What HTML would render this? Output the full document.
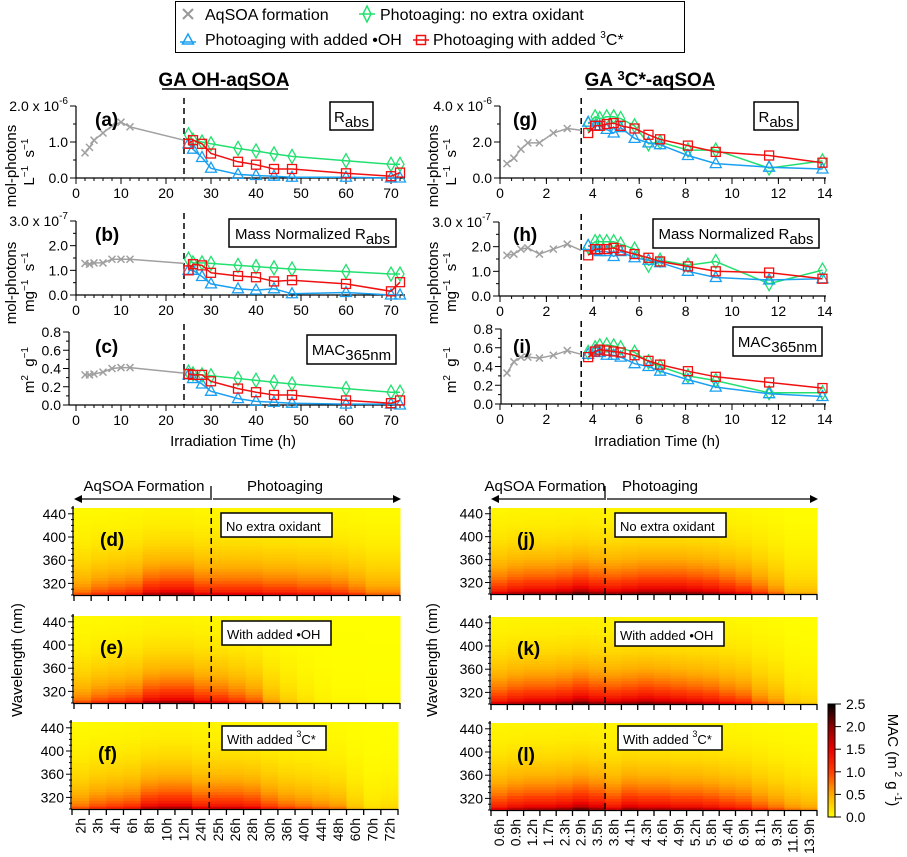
<!DOCTYPE html>
<html><head><meta charset="utf-8"><style>
html,body{margin:0;padding:0;background:#fff;}
svg{display:block;font-family:"Liberation Sans",Arial,sans-serif;}
</style></head><body>
<svg id="fig" width="907" height="857" viewBox="0 0 907 857" xmlns="http://www.w3.org/2000/svg">
<g>
<rect x="175.5" y="1.5" width="509" height="51" fill="#fff" stroke="#000" stroke-width="1"/>
<g><line x1="183" y1="9" x2="193" y2="19" stroke="#999" stroke-width="2"/><line x1="193" y1="9" x2="183" y2="19" stroke="#999" stroke-width="2"/><text x="205" y="20" font-size="16">AqSOA formation</text></g>
<g><line x1="359" y1="14" x2="375" y2="14" stroke="#22e070" stroke-width="1.5"/><polygon points="367,6 371,14 367,22 363,14" fill="none" stroke="#22e070" stroke-width="1.5"/><text x="380" y="20" font-size="16">Photoaging: no extra oxidant</text></g>
<g><line x1="180" y1="42" x2="196" y2="42" stroke="#1aa0f0" stroke-width="1.5"/><polygon points="188,34 193.5,44 182.5,44" fill="none" stroke="#1aa0f0" stroke-width="1.5"/><text x="205" y="45" font-size="16">Photoaging with added •OH</text></g>
<g><line x1="413" y1="40" x2="429" y2="40" stroke="#f01010" stroke-width="1.5"/><rect x="416.5" y="35.5" width="9" height="9" fill="none" stroke="#f01010" stroke-width="1.5"/><text x="433" y="45" font-size="16">Photoaging with added <tspan font-size="10" dy="-7">3</tspan><tspan dy="7">C*</tspan></text></g>
</g>
<text x="224" y="86" font-size="19" font-weight="bold" text-anchor="middle">GA OH-aqSOA</text>
<line x1="162" y1="89" x2="288" y2="89" stroke="#000" stroke-width="1.5"/>
<text x="650" y="86" font-size="19" font-weight="bold" text-anchor="middle">GA <tspan font-size="13" dy="-6">3</tspan><tspan dy="6">C*-aqSOA</tspan></text>
<line x1="587" y1="89" x2="714" y2="89" stroke="#000" stroke-width="1.5"/>
<g id="charts"></g>
<g id="heat"></g>
</svg>
<script>
// ---------- line chart data ----------
const ohGrayT = [2,3,4,6,8,10,12,24];
const ohPhotoT = [25,26,28,30,36,40,44,48,60,70,72];
const aGray = [0.7,0.85,1.05,1.25,1.45,1.55,1.42,1.05];
const aGreen = [1.2,1.05,1.0,0.95,0.82,0.75,0.67,0.6,0.48,0.38,0.38];
const aBlue = [0.95,0.8,0.57,0.27,0.1,0.07,0.05,0.02,0.02,0.0,0.0];
const aRed = [0.95,1.05,0.95,0.68,0.45,0.37,0.25,0.25,0.13,0.05,0.15];
const bGray = [1.28,1.25,1.3,1.3,1.45,1.45,1.45,1.28];
const bGreen = [1.45,1.3,1.3,1.28,1.2,1.15,1.1,1.05,0.95,0.85,0.85];
const bBlue = [1.0,1.0,0.75,0.45,0.25,0.2,0.25,0.05,0.1,0.0,0.0];
const bRed = [1.0,1.25,1.2,0.9,0.77,0.72,0.55,0.6,0.45,0.15,0.52];
const cGray = [0.33,0.33,0.34,0.36,0.4,0.41,0.41,0.35];
const cGreen = [0.36,0.34,0.33,0.32,0.29,0.27,0.25,0.23,0.18,0.14,0.14];
const cBlue = [0.33,0.29,0.23,0.15,0.07,0.04,0.03,0.02,0.01,0.01,0.0];
const cRed = [0.34,0.33,0.33,0.26,0.18,0.14,0.11,0.11,0.05,0.02,0.05];
const ccGrayT = [0.3,0.6,0.9,1.2,1.7,2.3,2.9,3.5];
const ccPhotoT = [3.8,4.1,4.3,4.6,4.9,5.2,5.8,6.4,6.9,8.1,9.3,11.6,13.9];
const gGray = [0.8,1.1,1.6,1.95,1.95,2.5,2.75,2.65];
const gGreen = [3.0,3.4,3.3,3.4,3.4,3.3,2.9,1.9,2.0,1.55,1.55,0.55,0.95];
const gBlue = [3.1,2.9,2.9,2.7,2.5,2.8,2.2,1.95,1.85,1.25,0.8,0.6,0.5];
const gRed = [2.5,2.9,2.9,3.0,3.05,2.9,2.75,2.4,2.15,1.8,1.45,1.25,0.85];
const hGray = [1.65,1.7,1.9,1.95,1.7,1.9,2.1,1.85];
const hGreen = [2.0,2.2,2.2,2.2,2.2,2.1,1.9,1.25,1.45,1.25,1.4,0.5,1.05];
const hBlue = [2.05,1.85,1.8,1.8,1.6,1.8,1.55,1.45,1.35,1.0,0.75,0.65,0.7];
const hRed = [1.65,1.9,1.9,1.9,1.95,1.85,1.7,1.55,1.4,1.2,1.0,0.95,0.7];
const iGray = [0.33,0.45,0.5,0.5,0.49,0.52,0.57,0.53];
const iGreen = [0.55,0.6,0.62,0.63,0.62,0.6,0.55,0.45,0.4,0.3,0.25,0.12,0.12];
const iBlue = [0.53,0.57,0.55,0.52,0.52,0.5,0.43,0.4,0.35,0.26,0.18,0.11,0.08];
const iRed = [0.5,0.56,0.58,0.57,0.56,0.55,0.52,0.46,0.42,0.35,0.29,0.23,0.17];
const leftXTicks = [0,10,20,30,40,50,60,70];
const rightXTicks = [0,2,4,6,8,10,12,14];
const yTicksA = [0,1,2];
const yTicksB = [0,1,2,3];
const yTicksC = [0,0.2,0.4,0.6,0.8];
// ---------- heatmap data ----------
const ohCols = ["2h","3h","4h","6h","8h","10h","12h","24h","25h","26h","28h","30h","36h","40h","44h","48h","60h","70h","72h"];
const ccCols = ["0.6h","0.9h","1.2h","1.7h","2.3h","2.9h","3.5h","3.8h","4.1h","4.3h","4.6h","4.9h","5.2h","5.8h","6.4h","6.9h","8.1h","9.3h","11.6h","13.9h"];
const wavelengths = [300,305,310,315,320,325,330,335,340,345,350,355,360,365,370,375,380,385,390,395,400,405,410,415,420,425,430,435,440,445];
const spectralShape = [1.00,0.80,0.70,0.62,0.56,0.50,0.45,0.41,0.37,0.33,0.30,0.27,0.24,0.22,0.20,0.18,0.16,0.14,0.125,0.11,0.10,0.09,0.08,0.07,0.06,0.055,0.05,0.045,0.04,0.035];
const dMac = [0.9,1.1,1.2,1.3,1.7,1.8,1.8,1.5,1.5,1.5,1.5,1.4,1.4,1.3,1.3,1.2,1.0,0.8,0.8];
const eMac = [0.9,1.1,1.2,1.3,1.7,1.8,1.8,1.5,1.4,1.2,1.0,0.6,0.35,0.2,0.1,0.05,0.05,0.03,0.03];
const fMac = [0.9,1.1,1.2,1.3,1.7,1.8,1.8,1.5,1.6,1.6,1.5,1.2,1.0,0.9,0.8,0.7,0.4,0.2,0.25];
const jMac = [1.5,1.7,1.8,1.8,1.9,2.1,1.9,1.8,1.9,2.0,2.0,2.0,1.9,1.8,1.6,1.4,1.1,0.8,0.45,0.45];
const kMac = [1.5,1.7,1.8,1.8,1.9,2.1,1.9,1.8,1.9,2.0,1.9,1.8,1.7,1.6,1.4,1.25,0.9,0.7,0.35,0.3];
const lMac = [1.5,1.7,1.8,1.8,1.9,2.1,1.9,1.6,1.9,1.8,1.8,1.7,1.7,1.6,1.45,1.35,1.1,0.9,0.7,0.6];
const cbTicks = [0,0.5,1.0,1.5,2.0,2.5];

const NS="http://www.w3.org/2000/svg";
function mk(tag, attrs, parent, txt){const e=document.createElementNS(NS,tag);for(const k in attrs)e.setAttribute(k,attrs[k]);if(txt!==undefined)e.textContent=txt;parent.appendChild(e);return e;}
const charts=document.getElementById('charts');
const GREEN="#22e070",BLUE="#1aa0f0",RED="#f01010",GRAY="#a0a0a0";

function drawPanel(p){
  const g=mk('g',{},charts);
  
  
  const sx=v=>p.x0+(v-p.xmin)*p.xs;
  const sy=v=>p.y0-(v/p.ymax)*(p.y0-p.ytop);
  const ax=mk('g',{},g);
  
  
  mk('line',{x1:p.ax,y1:p.ytop,x2:p.ax,y2:p.y0,stroke:'#000','stroke-width':1.2},ax);
  mk('line',{x1:p.ax,y1:p.y0,x2:p.xend,y2:p.y0,stroke:'#000','stroke-width':1.2},ax);
  for(let v=p.xmin;v<=p.xmaxTick+1e-9;v+=p.minor){const x=sx(v);mk('line',{x1:x,y1:p.y0,x2:x,y2:p.y0+3,stroke:'#000','stroke-width':1},ax);}
  p.xt.forEach(v=>{const x=sx(v);mk('line',{x1:x,y1:p.y0,x2:x,y2:p.y0+6,stroke:'#000','stroke-width':1},ax);
    if(p.xlab){const t=mk('text',{x:x,y:p.y0+20,'font-size':14,'text-anchor':'middle'},ax,String(v));}});
  p.yt.forEach((v,i)=>{const y=sy(v);mk('line',{x1:p.ax-6,y1:y,x2:p.ax,y2:y,stroke:'#000','stroke-width':1},ax);
    if(i<p.yt.length-1){const ym=sy(v+(p.yt[1]-p.yt[0])/2);mk('line',{x1:p.ax-3,y1:ym,x2:p.ax,y2:ym,stroke:'#000','stroke-width':1},ax);}
    let s=p.fmt(v);
    const t=mk('text',{x:p.ax-8,y:y+5,'font-size':14,'text-anchor':'end'},ax,s);
    
    if(i===p.yt.length-1&&p.exp){t.textContent='';t.appendChild(document.createTextNode(s+' x 10'));mk('tspan',{'font-size':10,dy:-7},t,p.exp);}
  });
  const d=mk('line',{x1:sx(p.dash),y1:p.ytop-8,x2:sx(p.dash),y2:p.y0,stroke:'#000','stroke-width':1.5,'stroke-dasharray':'6,4'},g);
  
  const series=[[p.grayT,p.gray,GRAY,'x','series-aqsoa'],[p.photoT,p.green,GREEN,'d','series-no-oxidant'],[p.photoT,p.blue,BLUE,'t','series-oh'],[p.photoT,p.red,RED,'s','series-3c']];
  series.forEach(([xs,ys,c,m,name])=>{
    const sg=mk('g',{},g);
    
    
    const pts=xs.map((x,i)=>sx(x).toFixed(1)+','+sy(ys[i]).toFixed(1)).join(' ');
    mk('polyline',{points:pts,fill:'none',stroke:c,'stroke-width':1.5},sg);
    xs.forEach((x,i)=>{
      if(m==='x'&&i===xs.length-1)return;
      const X=sx(x),Y=sy(ys[i]);
      if(m==='x'){mk('path',{d:`M${X-3.5},${Y-3.5}L${X+3.5},${Y+3.5}M${X+3.5},${Y-3.5}L${X-3.5},${Y+3.5}`,stroke:c,'stroke-width':1.5},sg);}
      else if(m==='d'){mk('polygon',{points:`${X},${Y-7} ${X+4},${Y} ${X},${Y+7} ${X-4},${Y}`,fill:'none',stroke:c,'stroke-width':1.3},sg);}
      else if(m==='t'){mk('polygon',{points:`${X},${Y-6} ${X+5.5},${Y+4} ${X-5.5},${Y+4}`,fill:'none',stroke:c,'stroke-width':1.3},sg);}
      else {mk('rect',{x:X-4.5,y:Y-4.5,width:9,height:9,fill:'none',stroke:c,'stroke-width':1.3},sg);}
    });
  });
  const bx=mk('g',{},g);
  
  
  mk('rect',{x:p.box[0],y:p.box[1],width:p.box[2],height:p.box[3],fill:'#fff',stroke:'#000','stroke-width':1.5},bx);
  const bt=mk('text',{x:p.box[0]+p.box[2]/2,y:p.box[1]+20,'font-size':15,'text-anchor':'middle'},bx,p.boxMain);
  mk('tspan',{dy:5},bt,p.boxSub);
  const lt=mk('text',{x:p.letter[0],y:p.letter[1],'font-size':19,'font-weight':'bold'},g,p.letterTxt);
  
  const yl=mk('g',{},g);
  
  
  if(p.yl1){mk('text',{x:0,y:0,'font-size':15,'text-anchor':'middle',transform:`translate(${p.ylx1},${p.ylc}) rotate(-90)`},yl,p.yl1);}
  const t2=mk('text',{x:0,y:0,'font-size':15,'text-anchor':'middle',transform:`translate(${p.ylx2},${p.ylc2}) rotate(-90)`},yl);
  p.yl2.forEach(([s,sup])=>{ if(sup){mk('tspan',{'font-size':10,dy:-6},t2,sup);mk('tspan',{dy:6},t2,'\u00a0');} else mk('tspan',{},t2,s);});
}
const fmt1=v=>v.toFixed(1);
const L={x0:76,xmin:0,xs:4.5,xend:405,xmaxTick:72,minor:2,xt:leftXTicks,dash:24,grayT:ohGrayT,photoT:ohPhotoT,ylx1:16,ylx2:34};
const R={x0:500,xmin:0,xs:23.2,xend:826,xmaxTick:14,minor:0.5,xt:rightXTicks,dash:3.5,grayT:ccGrayT,photoT:ccPhotoT,ylx1:438,ylx2:456};
const Lunit=[['L'],[null,'−1'],[' s'],[null,'−1']];
const Munit=[['mg'],[null,'−1'],[' s'],[null,'−1']];
const Gunit=[['m'],[null,'2'],[' g'],[null,'−1']];
const panels=[
 Object.assign({},L,{id:'a',ax:76,y0:178,ytop:106,ymax:2,yt:yTicksA,fmt:fmt1,exp:'-6',gray:aGray,green:aGreen,blue:aBlue,red:aRed,xlab:true,box:[330,102,43,28],boxMain:'R',boxSub:'abs',letter:[95,126],letterTxt:'(a)',yl1:'mol-photons',yl2:Lunit,ylc:166,ylc2:160}),
 Object.assign({},L,{id:'b',ax:76,y0:295,ytop:221,ymax:3,yt:yTicksB,fmt:fmt1,exp:'-7',gray:bGray,green:bGreen,blue:bBlue,red:bRed,xlab:true,box:[229,219,167,28],boxMain:'Mass Normalized R',boxSub:'abs',letter:[95,241],letterTxt:'(b)',yl1:'mol-photons',yl2:Munit,ylc:283,ylc2:280}),
 Object.assign({},L,{id:'c',ax:69,y0:405,ytop:332,ymax:0.8,yt:yTicksC,fmt:fmt1,exp:null,gray:cGray,green:cGreen,blue:cBlue,red:cRed,xlab:true,box:[307,335,89,29],boxMain:'MAC',boxSub:'365nm',letter:[95,353],letterTxt:'(c)',yl1:null,yl2:Gunit,ylc:368,ylc2:368}),
 Object.assign({},R,{id:'g',ax:500,y0:178,ytop:106,ymax:4,yt:[0,2,4],fmt:fmt1,exp:'-6',gray:gGray,green:gGreen,blue:gBlue,red:gRed,xlab:true,box:[754,102,44,28],boxMain:'R',boxSub:'abs',letter:[513,126],letterTxt:'(g)',yl1:'mol-photons',yl2:Lunit,ylc:166,ylc2:160}),
 Object.assign({},R,{id:'h',ax:499,y0:296,ytop:222,ymax:3,yt:yTicksB,fmt:fmt1,exp:'-7',gray:hGray,green:hGreen,blue:hBlue,red:hRed,xlab:true,box:[653,219,166,29],boxMain:'Mass Normalized R',boxSub:'abs',letter:[513,241],letterTxt:'(h)',yl1:'mol-photons',yl2:Munit,ylc:283,ylc2:280}),
 Object.assign({},R,{id:'i',ax:501,y0:404,ytop:329,ymax:0.8,yt:yTicksC,fmt:fmt1,exp:null,gray:iGray,green:iGreen,blue:iBlue,red:iRed,xlab:true,box:[733,327,89,29],boxMain:'MAC',boxSub:'365nm',letter:[513,353],letterTxt:'(i)',yl1:null,yl2:Gunit,ylc:368,ylc2:368})
];
panels.forEach(drawPanel);
[[233],[657]].forEach(([x])=>{const t=mk('text',{x:x,y:446,'font-size':15,'text-anchor':'middle'},charts,'Irradiation Time (h)');});

// ---------- heatmaps ----------
const heat=document.getElementById('heat');
function cmap(v){
  const t=Math.max(0,Math.min(1,v/2.5));
  const st=[[0,255,255,0],[0.2,255,170,0],[0.4,255,60,0],[0.6,235,0,0],[0.8,140,0,0],[1,0,0,0]];
  for(let i=1;i<st.length;i++){if(t<=st[i][0]){const a=st[i-1],b=st[i],f=(t-a[0])/(b[0]-a[0]);
    return `rgb(${Math.round(a[1]+(b[1]-a[1])*f)},${Math.round(a[2]+(b[2]-a[2])*f)},${Math.round(a[3]+(b[3]-a[3])*f)})`;}}
  return 'rgb(0,0,0)';
}
function drawHeat(h){
  const g=mk('g',{},heat);
  
  
  const n=h.cols.length,cw=(h.x1-h.x0)/n;
  const wy=w=>h.yb-(w-300)/150*(h.yb-h.yt);
  h.mac.forEach((amp,ci)=>{
    wavelengths.forEach((w,ri)=>{
      const y1=wy(w+5),y2=wy(w);
      mk('rect',{x:(h.x0+ci*cw).toFixed(2),y:y1.toFixed(2),width:(cw+0.5).toFixed(2),height:(y2-y1+0.5).toFixed(2),fill:cmap(amp*spectralShape[ri])},g);
    });
  });
  mk('line',{x1:h.x0-1,y1:h.yt-2,x2:h.x0-1,y2:h.yb,stroke:'#000','stroke-width':1.3},g);
  mk('line',{x1:h.x0-1,y1:h.yb+0.5,x2:h.x1,y2:h.yb+0.5,stroke:'#000','stroke-width':1.3},g);
  for(let w=300;w<=450;w+=10){const y=wy(w);const maj=(w-320)%40===0;mk('line',{x1:h.x0-(maj?6:3),y1:y,x2:h.x0,y2:y,stroke:'#000','stroke-width':1},g);
    if(maj&&w<=440){const t=mk('text',{x:h.x0-8,y:y+5,'font-size':14,'text-anchor':'end'},g,String(w));}}
  for(let i=0;i<=n;i++){const x=h.x0+i*cw;mk('line',{x1:x,y1:h.yb,x2:x,y2:h.yb+6,stroke:'#000','stroke-width':1.3},g);}
  if(h.labels){h.cols.forEach((c,i)=>{const x=h.x0+(i+0.5)*cw+5;const t=mk('text',{x:0,y:0,'font-size':14,'text-anchor':'end',transform:`translate(${x},${h.yb+9}) rotate(-90)`},g,c);});}
  const dx=h.x0+h.split*cw;
  mk('line',{x1:dx,y1:h.yt,x2:dx,y2:h.yb,stroke:'#000','stroke-width':1.5,'stroke-dasharray':'6,4'},g);
  const lt=mk('text',{x:h.x0+26,y:h.yt+38,'font-size':19,'font-weight':'bold'},g,h.letter);
  
  const bx=mk('g',{},g);
  
  
  mk('rect',{x:h.box[0],y:h.box[1],width:h.box[2],height:24,fill:'#fff',stroke:'#000','stroke-width':1.5},bx);
  const t=mk('text',{x:h.box[0]+5,y:h.box[1]+18,'font-size':13},bx,h.txt);
  if(h.sup){mk('tspan',{'font-size':9,dy:-7},t,'3');mk('tspan',{dy:7},t,'C*');}
}
const hl=[
 {id:'d',x0:74,x1:400,yt:508,yb:595,cols:ohCols,mac:dMac,split:8,letter:'(d)',box:[221,513,111,24],txt:'No extra oxidant',labels:false},
 {id:'e',x0:74,x1:400,yt:616,yb:703,cols:ohCols,mac:eMac,split:8,letter:'(e)',box:[222,621,109,24],txt:'With added •OH',labels:false},
 {id:'f',x0:72,x1:398,yt:722,yb:809,cols:ohCols,mac:fMac,split:8,letter:'(f)',box:[222,726,104,24],txt:'With added ',sup:true,labels:true},
 {id:'j',x0:491,x1:817,yt:508,yb:594,cols:ccCols,mac:jMac,split:7,letter:'(j)',box:[615,513,111,24],txt:'No extra oxidant',labels:false},
 {id:'k',x0:491,x1:817,yt:617,yb:704,cols:ccCols,mac:kMac,split:7,letter:'(k)',box:[615,622,109,24],txt:'With added •OH',labels:false},
 {id:'l',x0:491,x1:817,yt:723,yb:810,cols:ccCols,mac:lMac,split:7,letter:'(l)',box:[618,726,104,24],txt:'With added ',sup:true,labels:true}
];
hl.forEach(drawHeat);
function phase(x0,xs,x1,tA,tP,id){
  const g=mk('g',{},heat);
  
  
  mk('line',{x1:x0+6,y1:499,x2:xs-1,y2:499,stroke:'#000','stroke-width':1.3},g);
  mk('polygon',{points:`${x0},499 ${x0+8},495 ${x0+8},503`,fill:'#000'},g);
  mk('line',{x1:xs+2,y1:499,x2:x1-6,y2:499,stroke:'#000','stroke-width':1.3},g);
  mk('polygon',{points:`${x1},499 ${x1-8},495 ${x1-8},503`,fill:'#000'},g);
  mk('line',{x1:xs,y1:486,x2:xs,y2:500,stroke:'#000','stroke-width':1.3},g);
  mk('text',{x:tA,y:491,'font-size':15,'text-anchor':'middle'},g,'AqSOA Formation');
  mk('text',{x:tP,y:491,'font-size':15,'text-anchor':'middle'},g,'Photoaging');
}
phase(74,211,401,144,285,'left');
phase(491,605,818,545,660,'right');
[[22,660],[437,660]].forEach(([x,y])=>{const t=mk('text',{x:0,y:0,'font-size':15,'text-anchor':'middle',transform:`translate(${x},${y}) rotate(-90)`},heat,'Wavelength (nm)');});
const cb=mk('g',{},heat);


const cbT=704,cbB=817;
for(let i=0;i<113;i++){const v=2.5*(1-(i+0.5)/113);mk('rect',{x:828,y:cbT+i,width:7,height:1.2,fill:cmap(v)},cb);}
mk('rect',{x:828,y:cbT,width:7,height:cbB-cbT,fill:'none',stroke:'#000','stroke-width':1},cb);
cbTicks.forEach(v=>{const y=cbB-v/2.5*(cbB-cbT);mk('line',{x1:835,y1:y,x2:841,y2:y,stroke:'#000','stroke-width':1},cb);
  const t=mk('text',{x:846,y:y+5,'font-size':14},cb,v.toFixed(1));});
const ct=mk('text',{x:0,y:0,'font-size':15,'text-anchor':'middle',transform:'translate(888,760) rotate(90)'},cb,'MAC (m');
mk('tspan',{'font-size':10,dy:-7},ct,' 2');mk('tspan',{dy:7},ct,' g');mk('tspan',{'font-size':10,dy:-7},ct,' -1');mk('tspan',{dy:7},ct,')');
</script>
</body></html>
